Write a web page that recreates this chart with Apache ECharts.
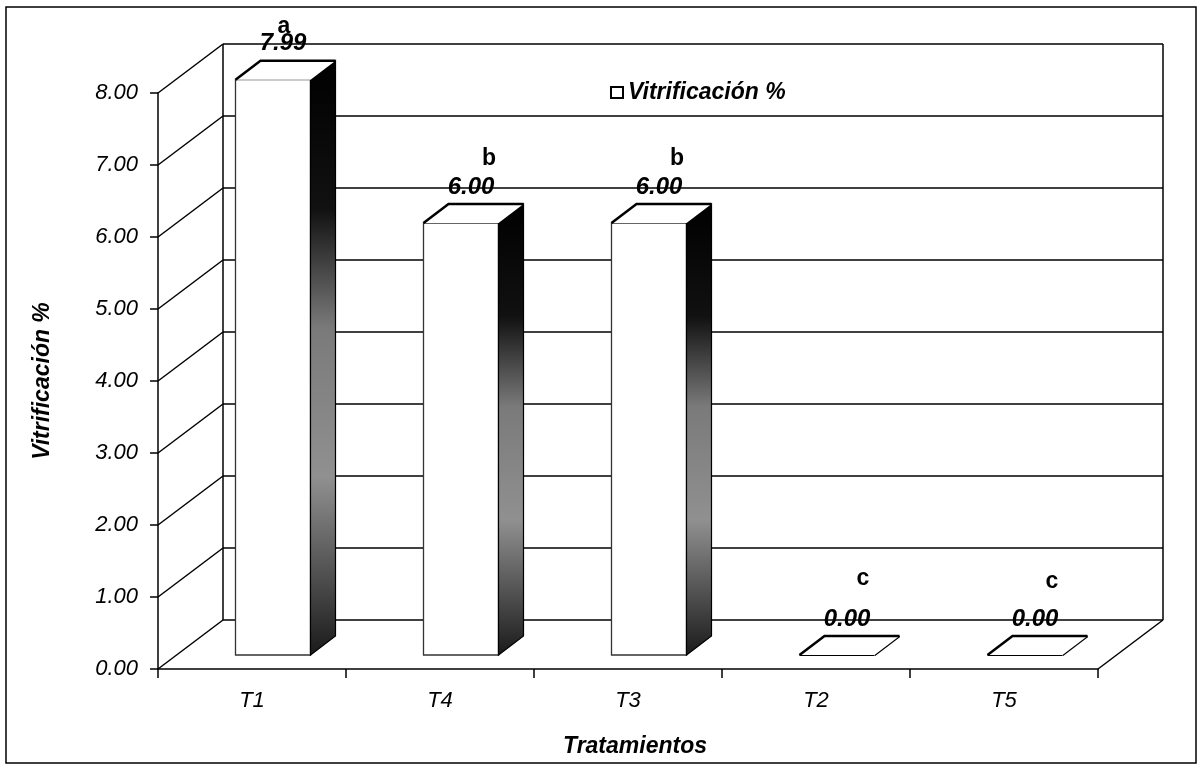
<!DOCTYPE html>
<html>
<head>
<meta charset="utf-8">
<script src="https://cdn.jsdelivr.net/npm/echarts@6/dist/echarts.min.js"></script>
<style>
  html, body { margin: 0; padding: 0; background: #fff; }
  #chart { width: 1203px; height: 768px; }
</style>
</head>
<body>
<div id="chart"></div>
<script>
// Vitrificación (%) por tratamiento
const categories = ['T1', 'T4', 'T3', 'T2', 'T5'];
const vitrificacion = [7.99, 6.00, 6.00, 0.00, 0.00];
const letras = ['a', 'b', 'b', 'c', 'c'];
const yTicks = [0, 1, 2, 3, 4, 5, 6, 7, 8];

// Perspective of the box: back wall offset and bar depth
const WALL = { dx: 65, dy: -49 };
const BAR = { front: [21, -14], depth: [25, -19], width: 75 };
// Placement of the significance letters relative to each value label
const LETTER_SHIFT = [[1, -17], [18, -28], [18, -28], [16, -40], [17, -37]];

const FONT = '"Liberation Sans", Arial, sans-serif';

function renderWall(params, api) {
  const v = api.value(1);
  const cs = params.coordSys;
  const x0 = cs.x, x1 = cs.x + cs.width;
  const y = api.coord([0, v])[1];
  const yBase = api.coord([0, yTicks[0]])[1];
  const dx = WALL.dx, dy = WALL.dy;
  const lineStyle = { stroke: '#000', lineWidth: 1.5, fill: null };
  const children = [
    { type: 'line', shape: { x1: x0, y1: y, x2: x0 + dx, y2: y + dy }, style: lineStyle },
    { type: 'line', shape: { x1: x0 + dx, y1: y + dy, x2: x1 + dx, y2: y + dy }, style: lineStyle }
  ];
  if (params.dataIndex === 0) {
    children.push({ type: 'line', shape: { x1: x1, y1: y, x2: x1 + dx, y2: y + dy }, style: lineStyle });
  }
  if (params.dataIndex === yTicks.length - 1) {
    children.push({ type: 'line', shape: { x1: x0 + dx, y1: y + dy, x2: x0 + dx, y2: yBase + dy }, style: lineStyle });
    children.push({ type: 'line', shape: { x1: x1 + dx, y1: y + dy, x2: x1 + dx, y2: yBase + dy }, style: lineStyle });
  }
  return { type: 'group', children: children };
}

function renderBar(params, api) {
  const i = params.dataIndex;
  const v = api.value(1);
  const top = api.coord([api.value(0), v]);
  const base = api.coord([api.value(0), 0]);
  const cx = top[0] + BAR.front[0];
  const xl = cx - BAR.width / 2, xr = cx + BAR.width / 2;
  const yt = top[1] + BAR.front[1], yb = base[1] + BAR.front[1];
  const ddx = BAR.depth[0], ddy = BAR.depth[1];
  const sideFill = new echarts.graphic.LinearGradient(0, 0, 0, 1, [
    { offset: 0, color: '#000' },
    { offset: 0.25, color: '#111' },
    { offset: 0.45, color: '#7a7a7a' },
    { offset: 0.7, color: '#909090' },
    { offset: 0.88, color: '#4a4a4a' },
    { offset: 1, color: '#1a1a1a' }
  ]);
  const lx = cx + 10, ly = yt + ddy - 17;
  const sh = LETTER_SHIFT[i];
  const flat = yb - yt < 1;
  return {
    type: 'group',
    children: [
      { type: 'rect', shape: { x: xl, y: yt, width: xr - xl, height: yb - yt },
        style: { fill: '#fff', stroke: flat ? '#000' : '#333', lineWidth: flat ? 2.2 : 1.3 } },
      { type: 'polygon', shape: { points: [[xr, yt], [xr + ddx, yt + ddy], [xr + ddx, yb + ddy], [xr, yb]] },
        style: { fill: sideFill, stroke: '#000', lineWidth: flat ? 2.2 : 1.2 } },
      { type: 'polygon', shape: { points: [[xl, yt], [xl + ddx, yt + ddy], [xr + ddx, yt + ddy], [xr, yt]] },
        style: { fill: '#fff', stroke: null } },
      { type: 'polyline', shape: { points: [[xl, yt], [xl + ddx, yt + ddy], [xr + ddx, yt + ddy]] },
        style: { stroke: '#000', lineWidth: 2.5, fill: null } },
      { type: 'text', x: lx, y: ly,
        style: { text: v.toFixed(2), font: 'italic bold 24px ' + FONT, fill: '#000', align: 'center', verticalAlign: 'middle' } },
      { type: 'text', x: lx + sh[0], y: ly + sh[1],
        style: { text: letras[i], font: 'bold 23px ' + FONT, fill: '#000', align: 'center', verticalAlign: 'middle' } }
    ]
  };
}

const chart = echarts.init(document.getElementById('chart'), null, { renderer: 'canvas' });
chart.setOption({
  animation: false,
  backgroundColor: '#fff',
  textStyle: { fontFamily: FONT },
  graphic: [{
    type: 'rect', z: 0,
    shape: { x: 6, y: 7, width: 1190, height: 756 },
    style: { fill: null, stroke: '#000', lineWidth: 1.5 }
  }],
  legend: {
    data: ['Vitrificación %'],
    left: 605, top: 76,
    icon: 'rect', itemWidth: 12, itemHeight: 11, itemGap: 5,
    itemStyle: { color: '#fff', borderColor: '#000', borderWidth: 2 },
    textStyle: { fontFamily: FONT, fontStyle: 'italic', fontWeight: 'bold', fontSize: 23, color: '#000' }
  },
  grid: { left: 158, right: 105, top: 93, bottom: 99 },
  xAxis: {
    type: 'category',
    data: categories,
    name: 'Tratamientos',
    nameLocation: 'middle',
    nameGap: 66,
    nameTextStyle: { fontFamily: FONT, fontStyle: 'italic', fontWeight: 'bold', fontSize: 23, color: '#000', padding: [0, 0, 0, 14] },
    axisLine: { lineStyle: { color: '#000', width: 1.5 } },
    axisTick: { show: true, length: 9, lineStyle: { color: '#000', width: 1.5 } },
    axisLabel: { fontFamily: FONT, fontStyle: 'italic', fontSize: 22, color: '#000', margin: 21 },
    splitLine: { show: false }
  },
  yAxis: {
    type: 'value',
    min: 0, max: 8, interval: 1,
    name: 'Vitrificación %',
    nameLocation: 'middle',
    nameGap: 104,
    nameTextStyle: { fontFamily: FONT, fontStyle: 'italic', fontWeight: 'bold', fontSize: 23, color: '#000' },
    axisLine: { show: true, lineStyle: { color: '#000', width: 1.5 } },
    axisTick: { show: true, length: 8, lineStyle: { color: '#000', width: 1.5 } },
    axisLabel: { fontFamily: FONT, fontStyle: 'italic', fontSize: 22, color: '#000', margin: 20,
                 formatter: function (v) { return v.toFixed(2); } },
    splitLine: { show: false }
  },
  series: [
    {
      name: 'paredes',
      type: 'custom',
      z: 2,
      silent: true,
      renderItem: renderWall,
      encode: { x: 0, y: 1 },
      data: yTicks.map(function (v) { return [0, v]; })
    },
    {
      name: 'Vitrificación %',
      type: 'custom',
      z: 3,
      itemStyle: { color: '#fff', borderColor: '#000', borderWidth: 2 },
      renderItem: renderBar,
      encode: { x: 0, y: 1 },
      data: vitrificacion.map(function (v, i) { return [i, v]; })
    }
  ]
});
</script>
</body>
</html>
